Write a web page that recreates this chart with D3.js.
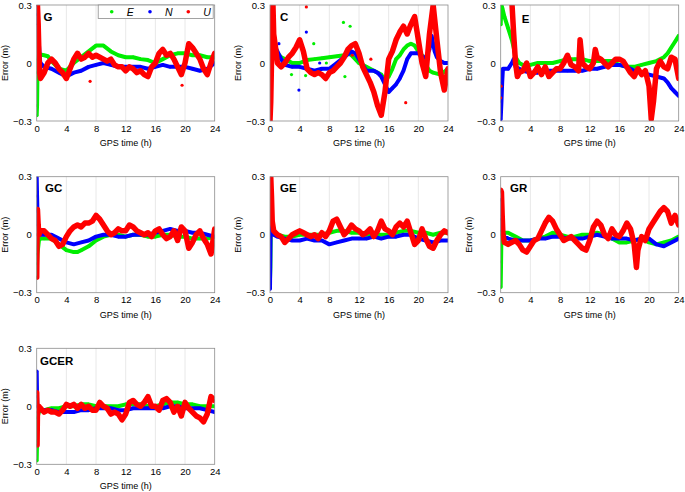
<!DOCTYPE html>
<html>
<head>
<meta charset="utf-8">
<script src="https://cdn.jsdelivr.net/npm/d3@7"></script>
<style>
body { margin: 0; background: #fff; }
text { font-family: Arial, "Liberation Sans", sans-serif; }
</style>
</head>
<body>
<svg id="chart" width="685" height="492"></svg>
<script>
// ---- data: [GPS hour, error in m] ----
var xTicks = [0, 4, 8, 12, 16, 20, 24];
var yTicks = [-0.3, 0, 0.3];
var seriesNames = ["E", "N", "U"];

var G_E = [[0,-0.27],[0.05,-0.22],[0.1,-0.05],[0.2,0.02],[0.3,0.045],[1,0.04],[1.5,0.035],[2,0.01],[3,-0.03],[4,-0.04],[5,0.0],[6,0.03],[7,0.06],[8,0.09],[9,0.09],[10,0.06],[11,0.04],[12,0.03],[13,0.03],[14,0.02],[15,0.015],[16,0.0],[17,0.02],[18,0.04],[19,0.05],[20,0.05],[21,0.04],[22,0.04],[23,0.03],[24,0.03]];
var G_N = [[0,0.3],[0.1,0.25],[0.2,0.2],[0.3,0.1],[0.4,0.03],[0.5,0.0],[1,-0.02],[2,-0.03],[3,-0.05],[4,-0.07],[5,-0.05],[6,-0.04],[7,-0.02],[8,-0.01],[9,0.0],[10,-0.01],[11,-0.02],[12,-0.02],[13,-0.02],[14,-0.02],[15,-0.03],[16,-0.02],[17,-0.01],[18,-0.02],[19,-0.02],[20,-0.02],[21,-0.03],[22,-0.04],[23,-0.03],[24,0.0]];
var G_U = [[0.1,0.3],[0.2,0.2],[0.3,0.05],[0.4,-0.05],[0.5,-0.08],[1,-0.05],[1.5,0.0],[2,0.02],[2.5,0.0],[3,-0.03],[3.5,-0.05],[4,-0.08],[4.5,-0.03],[5,0.02],[5.5,0.05],[6,0.02],[6.5,0.03],[7,0.05],[7.5,0.03],[8,0.04],[8.5,0.03],[9,0.02],[9.5,0.01],[10,0.02],[10.5,-0.01],[11,-0.02],[11.5,-0.02],[12,-0.04],[12.5,-0.02],[13,-0.03],[13.5,-0.05],[14,-0.04],[14.5,-0.06],[15,-0.07],[15.5,-0.02],[16,0.0],[16.5,0.05],[17,0.07],[17.5,0.04],[18,0.05],[18.5,0.02],[19,-0.02],[19.5,-0.06],[20,0.0],[20.5,0.1],[21,0.08],[21.5,0.05],[22,0.02],[22.5,-0.03],[23,-0.06],[23.5,0.0],[24,0.05]];
var G_Uout = [[7.2,-0.095],[19.6,-0.115]];

var C_E = [[0.3,0.1],[0.5,0.06],[1,0.05],[1.5,0.03],[2,0.02],[3,0.0],[4,0.0],[5,0.015],[6,0.02],[7,0.025],[8,0.03],[9,0.035],[10,0.04],[10.5,0.05],[11,0.04],[11.5,0.02],[12,0.0],[13,-0.02],[14,-0.04],[15,-0.06],[15.5,-0.09],[16,-0.07],[16.5,-0.03],[17,0.02],[17.5,0.04],[18,0.07],[18.5,0.09],[19,0.1],[19.5,0.09],[20,0.06],[20.5,0.04],[21,-0.01],[21.5,-0.04],[22,-0.05],[23,-0.06],[24,-0.03]];
var C_N = [[0.2,0.32],[0.35,0.3],[0.5,0.15],[0.75,0.08],[1,0.06],[1.5,0.02],[2,-0.01],[3,-0.02],[4,-0.02],[5,-0.03],[6,-0.04],[7,-0.03],[8,-0.03],[9,0.0],[10,0.03],[11,0.06],[11.5,0.05],[12,0.02],[12.5,-0.01],[13,-0.04],[14,-0.04],[14.5,-0.05],[15,-0.07],[15.5,-0.11],[16,-0.15],[16.5,-0.13],[17,-0.11],[17.5,-0.08],[18,-0.04],[18.5,0.02],[19,0.05],[19.5,0.05],[20,0.05],[20.5,0.03],[21,0.03],[21.5,0.07],[21.8,0.14],[22.2,0.06],[22.5,0.03],[23,0.01],[23.5,0.0],[24,0.0]];
var C_U = [[0,-0.3],[0.1,-0.2],[0.2,0.0],[0.3,0.2],[0.4,0.3],[0.5,0.15],[0.75,0.08],[1,0.0],[1.5,-0.02],[2,0.0],[2.5,0.03],[3,0.05],[3.5,0.08],[4,0.12],[4.5,0.06],[5,-0.03],[5.5,-0.05],[6,-0.06],[6.5,-0.05],[7,-0.06],[7.5,-0.08],[8,-0.05],[8.5,-0.04],[9,-0.02],[9.5,0.0],[10,0.03],[10.5,0.07],[11,0.09],[11.5,0.1],[12,0.05],[12.5,-0.02],[13,-0.06],[13.5,-0.1],[14,-0.15],[14.5,-0.22],[15,-0.27],[15.5,-0.15],[16,0.02],[16.5,0.06],[17,0.12],[17.5,0.16],[18,0.19],[18.5,0.15],[19,0.2],[19.5,0.24],[20,0.12],[20.5,0.0],[21,-0.07],[21.5,0.15],[22,0.3],[22.5,0.12],[23,-0.05],[23.5,-0.14],[24,-0.03]];
var C_Eout = [[9.9,0.21],[10.8,0.19],[5.9,0.1],[2.9,-0.06],[4.8,-0.065],[10.1,-0.07],[7.6,0.0]];
var C_Nout = [[4.9,0.16],[3.9,-0.14],[1.2,0.1],[6.7,0.0]];
var C_Uout = [[4.9,0.29],[18.3,-0.205],[13.6,0.02],[11.1,0.04]];

var E_E = [[0,0.2],[0.1,0.3],[0.25,0.28],[0.5,0.24],[1,0.18],[1.5,0.12],[1.75,0.08],[2,0.03],[2.5,0.0],[3,-0.01],[4,-0.01],[5,0.0],[6,0.0],[7,0.0],[8,0.01],[9,0.02],[10,0.02],[11,0.02],[12,0.01],[13,0.01],[14,0.01],[15,0.01],[16,-0.01],[17,-0.02],[18,-0.02],[19,-0.01],[20,0.0],[21,0.01],[22,0.03],[22.5,0.05],[23,0.08],[23.5,0.11],[24,0.14]];
var E_N = [[0,-0.29],[0.1,-0.2],[0.2,-0.1],[0.3,-0.03],[0.5,-0.03],[1,-0.03],[1.5,0.0],[1.75,0.02],[2,-0.02],[2.5,-0.03],[3,-0.04],[4,-0.05],[5,-0.05],[6,-0.04],[7,-0.04],[8,-0.04],[9,-0.04],[10,-0.04],[11,-0.04],[12,-0.03],[13,-0.03],[14,-0.02],[15,-0.01],[16,-0.01],[17,-0.02],[18,-0.04],[19,-0.05],[20,-0.06],[21,-0.07],[22,-0.08],[22.5,-0.1],[23,-0.13],[23.5,-0.15],[24,-0.17]];
var E_U = [[1.3,0.36],[1.5,0.32],[1.75,0.15],[2,0.0],[2.25,-0.07],[2.5,-0.05],[3,-0.04],[3.5,0.0],[4,-0.07],[4.5,-0.05],[5,-0.02],[5.5,-0.06],[6,-0.02],[6.5,-0.07],[7,-0.05],[7.5,-0.03],[8,-0.03],[8.5,0.0],[9,0.04],[9.5,-0.01],[10,-0.02],[10.5,-0.04],[10.7,0.12],[11,0.0],[11.5,-0.02],[12,-0.03],[12.5,0.0],[12.75,0.07],[13,0.03],[13.5,0.02],[14,0.0],[14.5,-0.02],[15,0.0],[15.5,0.02],[16,0.02],[16.5,0.01],[17,-0.02],[17.5,-0.05],[18,-0.07],[18.5,-0.03],[19,-0.06],[19.5,-0.04],[20,-0.12],[20.3,-0.29],[20.6,-0.2],[21,-0.03],[21.5,0.01],[22,-0.02],[22.5,-0.03],[23,0.03],[23.5,0.02],[24,-0.08]];
var E_Uout = [[0,-0.18],[0.05,-0.12]];

var GC_E = [[0,-0.22],[0.05,-0.15],[0.1,-0.1],[0.3,-0.03],[0.5,-0.02],[1,-0.02],[2,-0.02],[3,-0.05],[4,-0.08],[5,-0.09],[5.5,-0.09],[6,-0.08],[7,-0.06],[8,-0.03],[9,-0.01],[10,0.0],[11,0.0],[12,-0.01],[13,0.0],[14,0.0],[15,-0.01],[16,-0.01],[17,0.0],[18,0.0],[19,-0.01],[20,-0.01],[21,-0.02],[22,-0.02],[23,-0.02],[24,-0.01]];
var GC_N = [[0,0.3],[0.05,0.2],[0.1,0.12],[0.2,0.05],[0.3,0.02],[0.5,0.0],[1,0.0],[2,0.0],[3,-0.02],[4,-0.04],[5,-0.05],[6,-0.04],[7,-0.03],[8,-0.01],[9,0.0],[10,0.0],[11,-0.01],[12,-0.01],[13,0.0],[14,0.0],[15,0.0],[16,0.01],[17,0.02],[18,0.03],[19,0.02],[20,0.02],[21,0.01],[22,0.01],[23,0.0],[24,-0.01]];
var GC_U = [[0,-0.22],[0.05,0.0],[0.1,0.13],[0.2,0.05],[0.3,0.0],[0.5,0.02],[1,0.02],[1.5,0.0],[2,-0.02],[2.5,-0.03],[3,-0.06],[3.5,-0.05],[4,-0.01],[4.5,0.02],[5,0.04],[5.5,0.05],[6,0.04],[6.5,0.06],[7,0.06],[7.5,0.07],[8,0.1],[8.5,0.08],[9,0.05],[9.5,0.02],[10,0.0],[10.5,0.01],[11,0.03],[11.5,0.02],[12,0.02],[12.5,0.05],[13,0.04],[13.5,0.02],[14,0.01],[14.5,0.0],[15,0.01],[15.5,-0.01],[16,0.02],[16.5,0.03],[17,0.0],[17.5,-0.02],[18,-0.01],[18.5,0.02],[19,-0.03],[19.5,0.04],[20,0.02],[20.5,-0.07],[21,-0.04],[21.5,0.0],[22,0.02],[22.5,-0.02],[23,-0.05],[23.5,-0.1],[24,0.03]];

var GE_E = [[0,-0.23],[0.05,-0.17],[0.1,0.0],[0.3,0.01],[1,0.0],[2,-0.01],[3,-0.01],[4,0.0],[5,0.0],[6,0.0],[7,0.0],[8,0.01],[9,0.02],[10,0.02],[11,0.01],[12,0.01],[13,0.0],[14,0.0],[15,0.0],[16,0.0],[17,0.01],[18,0.02],[19,0.02],[20,0.01],[21,0.01],[22,0.0],[23,0.01],[24,0.01]];
var GE_N = [[0,-0.28],[0.05,-0.1],[0.1,0.1],[0.2,0.05],[0.5,0.0],[1,-0.01],[2,-0.02],[3,-0.03],[4,-0.03],[5,-0.02],[6,-0.03],[7,-0.03],[8,-0.05],[9,-0.04],[10,-0.03],[11,-0.02],[12,-0.02],[13,-0.02],[14,-0.01],[15,-0.02],[16,-0.01],[17,-0.01],[18,0.0],[19,0.0],[20,-0.02],[21,-0.03],[22,-0.04],[23,-0.03],[24,-0.03]];
var GE_U = [[0,0.22],[0.1,0.3],[0.2,0.2],[0.3,0.07],[0.5,0.02],[1,0.0],[1.5,-0.01],[2,-0.04],[2.5,-0.02],[3,0.0],[3.5,0.01],[4,0.02],[4.5,0.01],[5,0.0],[5.5,-0.01],[6,0.0],[6.5,-0.02],[7,0.01],[7.5,-0.01],[8,0.02],[8.5,0.07],[9,0.08],[9.5,0.04],[10,0.0],[10.5,0.02],[11,0.05],[11.5,0.03],[12,0.02],[12.5,0.0],[13,0.01],[13.5,0.03],[14,-0.01],[14.5,0.02],[15,0.07],[15.5,0.03],[16,0.02],[16.5,0.0],[17,0.04],[17.5,0.06],[18,0.04],[18.5,0.07],[19,0.01],[19.5,-0.05],[20,-0.03],[20.5,0.03],[21,-0.02],[21.5,-0.06],[22,-0.07],[22.5,-0.03],[23,0.0],[23.5,0.02],[24,0.01]];

var GR_E = [[0,-0.27],[0.05,-0.14],[0.1,0.0],[0.2,0.02],[0.5,0.01],[1,0.01],[2,-0.01],[3,-0.03],[4,-0.03],[5,-0.02],[6,-0.01],[7,0.01],[8,0.0],[9,-0.01],[10,-0.01],[11,0.0],[12,0.0],[13,0.01],[14,0.0],[15,-0.02],[16,-0.04],[17,-0.04],[18,-0.03],[19,-0.02],[20,-0.04],[21,-0.05],[22,-0.04],[23,-0.03],[24,-0.01]];
var GR_N = [[0,0.18],[0.1,0.08],[0.2,0.02],[0.5,-0.01],[1,-0.02],[2,-0.03],[3,-0.03],[4,-0.03],[5,-0.02],[6,-0.02],[7,-0.01],[8,-0.01],[9,-0.02],[10,-0.02],[11,-0.02],[12,-0.01],[13,0.0],[14,-0.01],[15,-0.02],[16,-0.02],[17,-0.02],[18,-0.03],[19,-0.02],[20,-0.02],[21,-0.05],[22,-0.06],[23,-0.04],[24,-0.02]];
var GR_U = [[0,0.23],[0.1,0.22],[0.2,0.1],[0.3,0.0],[0.5,-0.04],[1,-0.05],[1.5,-0.04],[2,-0.03],[2.5,-0.05],[3,-0.08],[3.5,-0.09],[4,-0.06],[4.5,-0.03],[5,-0.02],[5.5,0.02],[6,0.06],[6.5,0.09],[7,0.07],[7.5,0.03],[8,0.0],[8.5,-0.03],[9,-0.02],[9.5,-0.01],[10,-0.03],[10.5,-0.05],[11,-0.07],[11.5,-0.08],[12,-0.03],[12.5,0.04],[13,0.07],[13.5,0.05],[14,0.0],[14.5,-0.02],[15,0.03],[15.5,0.0],[16,-0.01],[16.5,0.02],[17,0.06],[17.5,0.03],[18,-0.05],[18.3,-0.17],[18.5,-0.08],[19,-0.01],[19.5,-0.03],[20,0.03],[20.5,0.06],[21,0.09],[21.5,0.12],[22,0.14],[22.5,0.12],[23,0.06],[23.5,0.1],[24,0.05]];

var GCER_E = [[0,-0.28],[0.05,-0.18],[0.1,-0.06],[0.3,-0.03],[0.5,-0.02],[1,-0.02],[2,-0.01],[3,-0.01],[4,0.0],[5,0.0],[6,0.01],[7,0.01],[8,0.0],[9,0.0],[10,0.0],[11,0.0],[12,0.01],[13,0.01],[14,0.01],[15,0.0],[16,0.0],[17,0.01],[18,0.02],[19,0.02],[20,0.01],[21,0.01],[22,0.0],[23,0.0],[24,0.0]];
var GCER_N = [[0,0.18],[0.05,0.05],[0.1,0.0],[0.5,-0.02],[1,-0.02],[2,-0.02],[3,-0.03],[4,-0.03],[5,-0.03],[6,-0.02],[7,-0.02],[8,-0.01],[9,-0.01],[10,-0.01],[11,-0.02],[12,-0.02],[13,-0.01],[14,-0.01],[15,-0.01],[16,-0.01],[17,-0.01],[18,0.0],[19,0.0],[20,-0.01],[21,-0.01],[22,-0.01],[23,-0.02],[24,-0.03]];
var GCER_U = [[0,0.07],[0.05,-0.2],[0.1,-0.03],[0.3,0.0],[0.5,-0.01],[1,-0.03],[1.5,-0.02],[2,-0.03],[2.5,-0.03],[3,-0.04],[3.5,-0.02],[4,0.01],[4.5,0.0],[5,0.01],[5.5,-0.01],[6,0.01],[6.5,-0.01],[7,0.0],[7.5,-0.02],[8,-0.02],[8.5,0.02],[9,0.0],[9.5,-0.01],[10,-0.04],[10.5,-0.03],[11,-0.04],[11.5,-0.07],[12,-0.04],[12.5,0.02],[13,0.03],[13.5,0.01],[14,0.0],[14.5,0.02],[15,0.05],[15.5,0.0],[16,0.0],[16.5,-0.02],[17,0.03],[17.5,0.04],[18,0.02],[18.5,-0.03],[19,0.0],[19.5,-0.05],[20,0.02],[20.5,-0.01],[21,-0.03],[21.5,-0.05],[22,-0.06],[22.5,-0.08],[23,-0.04],[23.5,0.05],[24,0.03]];

var panels = [
	{ name : "G", col : 0, row : 0, lx : 6.7, ly : 15.5, series : [ G_E, G_N, G_U ], outliers : [ [], [], G_Uout ] },
	{ name : "C", col : 1, row : 0, lx : 10, ly : 15.5, series : [ C_E, C_N, C_U ], outliers : [ C_Eout, C_Nout, C_Uout ] },
	{ name : "E", col : 2, row : 0, lx : 21, ly : 18, series : [ E_E, E_N, E_U ], outliers : [ [], [], E_Uout ] },
	{ name : "GC", col : 0, row : 1, lx : 8.3, ly : 15, series : [ GC_E, GC_N, GC_U ], outliers : [ [], [], [] ] },
	{ name : "GE", col : 1, row : 1, lx : 10, ly : 15.6, series : [ GE_E, GE_N, GE_U ], outliers : [ [], [], [] ] },
	{ name : "GR", col : 2, row : 1, lx : 9.3, ly : 15.6, series : [ GR_E, GR_N, GR_U ], outliers : [ [], [], [] ] },
	{ name : "GCER", col : 0, row : 2, lx : 3.3, ly : 16.7, series : [ GCER_E, GCER_N, GCER_U ], outliers : [ [], [], [] ] }
];

// ---- layout ----
var colors = [ "#00ee00", "#0000ff", "#ff0000" ];
var bandWidth = [ 4, 4, 5.5 ];
var lefts = [ 36.7, 270, 500.7 ];
var tops = [ 5, 176.7, 348.3 ];
var W = 178, H = 116;

var svg = d3.select("#chart");
var x = d3.scaleLinear().domain([ 0, 24 ]).range([ 0, W ]);
var y = d3.scaleLinear().domain([ -0.3, 0.3 ]).range([ H, 0 ]);
var line = d3.line().x(function(d) {
	return x(d[0]);
}).y(function(d) {
	return y(d[1]);
});

panels.forEach(function(p, pi) {
	var g = svg.append("g").attr("transform", "translate(" + lefts[p.col] + "," + tops[p.row] + ")");

	g.append("clipPath").attr("id", "clip" + pi).append("rect").attr("width", W).attr("height", H);

	// vertical grid
	g.selectAll(".grid").data(xTicks.slice(1, -1)).enter().append("line")//
	.attr("x1", function(d) {
		return x(d);
	}).attr("x2", function(d) {
		return x(d);
	}).attr("y1", 0).attr("y2", H)//
	.style("stroke", "#e2e2e2").style("stroke-width", 0.8);

	var plot = g.append("g").attr("clip-path", "url(#clip" + pi + ")");
	p.series.forEach(function(s, si) {
		plot.append("path").datum(s).attr("d", line)//
		.style("fill", "none").style("stroke", colors[si])//
		.style("stroke-width", bandWidth[si]).style("stroke-linejoin", "round").style("stroke-linecap", "round");
		plot.selectAll(".pt" + si).data(s.concat(p.outliers[si])).enter().append("circle")//
		.attr("cx", function(d) {
			return x(d[0]);
		}).attr("cy", function(d) {
			return y(d[1]);
		}).attr("r", 1.6).style("fill", colors[si]);
	});

	g.append("rect").attr("width", W).attr("height", H)//
	.style("fill", "none").style("stroke", "#8c8c8c").style("stroke-width", 0.8);

	var xAxis = g.append("g").attr("transform", "translate(0," + H + ")")//
	.call(d3.axisBottom(x).tickValues(xTicks).tickSize(0).tickPadding(4));
	var yAxis = g.append("g").call(d3.axisLeft(y).tickValues(yTicks).tickSize(0).tickPadding(5)//
	.tickFormat(function(d) {
		return d === 0 ? "0" : d3.format(".1f")(d);
	}));
	[ xAxis, yAxis ].forEach(function(a) {
		a.select(".domain").remove();
		a.selectAll("text").style("font-size", "9.5px").style("fill", "#000")//
		.style("font-family", "Arial, 'Liberation Sans', sans-serif");
	});

	g.append("text").attr("x", W / 2).attr("y", H + 25).attr("text-anchor", "middle")//
	.style("font-size", "9px").text("GPS time (h)");
	g.append("text").attr("transform", "translate(-29," + (H / 2) + ") rotate(-90)")//
	.attr("text-anchor", "middle").style("font-size", "9px").text("Error (m)");
	g.append("text").attr("x", p.lx).attr("y", p.ly).style("font-size", "11.5px").style("font-weight", "bold").text(p.name);

	if (pi === 0) {
		var lg = g.append("g").attr("transform", "translate(61.5,0)");
		lg.append("rect").attr("width", 115).attr("height", 13.5)//
		.style("fill", "#fff").style("stroke", "#8c8c8c").style("stroke-width", 0.8);
		seriesNames.forEach(function(n, i) {
			lg.append("circle").attr("cx", 13.5 + i * 38.3).attr("cy", 6.8).attr("r", 1.8).style("fill", colors[i]);
			lg.append("text").attr("x", 28.5 + i * 38.3).attr("y", 10.6).style("font-size", "10.5px")//
			.style("font-style", "italic").text(n);
		});
	}
});
</script>
</body>
</html>
